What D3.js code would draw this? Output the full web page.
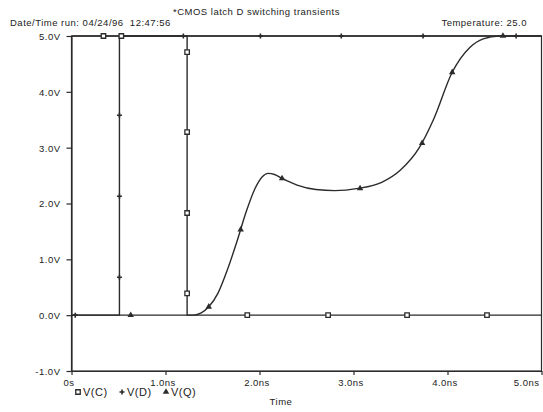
<!DOCTYPE html>
<html><head><meta charset="utf-8">
<script src="https://cdn.jsdelivr.net/npm/d3@7"></script>
<style>
html,body{margin:0;padding:0;background:#fff;}
svg{display:block;}
text{font-family:"Liberation Sans",Arial,sans-serif;fill:#222;letter-spacing:0.5px;}
</style>
</head><body>
<svg id="chart" width="543" height="412"></svg>
<script>
// Header texts
const title = "*CMOS latch D switching transients";
const runStamp = "Date/Time run: 04/24/96\u00a0\u00a012:47:56";
const temperature = "Temperature: 25.0";
const xAxisTitle = "Time";

// Axis ticks
const xTicks = [0, 1, 2, 3, 4, 5];
const xTickLabels = ["0s", "1.0ns", "2.0ns", "3.0ns", "4.0ns", "5.0ns"];
const yTicks = [5, 4, 3, 2, 1, 0, -1];
const yTickLabels = ["5.0V", "4.0V", "3.0V", "2.0V", "1.0V", "0.0V", "-1.0V"];

// Series names (legend order)
const seriesNames = ["V(C)", "V(D)", "V(Q)"];

// Waveforms: time in ns, voltage in V
const cTime = [0, 1.23, 1.23, 5];
const cVolt = [5, 5, 0, 0];
const dTime = [0, 0.51, 0.51, 5];
const dVolt = [0, 0, 5, 5];
const qTime = [0, 1.30, 1.38, 1.46, 1.56, 1.66, 1.76, 1.86, 1.95, 2.03, 2.09, 2.16, 2.24, 2.40, 2.60, 2.80, 3.05, 3.30, 3.50, 3.70, 3.85, 4.05, 4.24, 4.38, 4.55, 5.0];
const qVolt = [0, 0, 0.04, 0.15, 0.40, 0.82, 1.32, 1.86, 2.26, 2.48, 2.54, 2.52, 2.45, 2.33, 2.25, 2.23, 2.27, 2.38, 2.6, 3.0, 3.5, 4.35, 4.8, 4.95, 5.0, 5.0];

// Trace symbols placed along each waveform
const cMarkTime = [0.34, 0.53, 1.23, 1.23, 1.23, 1.23, 1.87, 2.73, 3.57, 4.42];
const cMarkVolt = [5, 5, 4.71, 3.28, 1.83, 0.39, 0, 0, 0, 0];
const dMarkTime = [0.04, 0.51, 0.51, 0.51, 1.19, 2.01, 2.87, 3.74, 4.73];
const dMarkVolt = [0, 0.68, 2.13, 3.58, 5, 5, 5, 5, 5];
const qMarkTime = [0.63, 1.46, 1.80, 2.24, 3.07, 3.73, 4.05, 4.59];
const qMarkVolt = [0, 0.15, 1.53, 2.45, 2.27, 3.08, 4.35, 5.0];

const W = 543, H = 412;
const plot = {left: 71.5, right: 541.5, top: 36, bottom: 371};
const ink = "#2b2b2b";

const svg = d3.select("#chart");
svg.append("rect").attr("width", W).attr("height", H).attr("fill", "#fff");

const x = d3.scaleLinear().domain([0, 5]).range([plot.left, plot.right]);
const y = d3.scaleLinear().domain([-1, 5]).range([plot.bottom, plot.top]);

// Header
svg.append("text").attr("x", 173).attr("y", 15).attr("font-size", 9.5).text(title);
svg.append("text").attr("x", 10).attr("y", 26).attr("font-size", 9.5).text(runStamp);
svg.append("text").attr("x", 527).attr("y", 26).attr("font-size", 9.5).attr("text-anchor", "end").text(temperature);

// Frame
svg.append("rect")
  .attr("x", plot.left).attr("y", plot.top)
  .attr("width", plot.right - plot.left).attr("height", plot.bottom - plot.top)
  .attr("fill", "none").attr("stroke", ink).attr("stroke-width", 1.2);

// Y axis
const yAxis = svg.append("g").attr("transform", `translate(${plot.left},0)`)
  .call(d3.axisLeft(y).tickValues(yTicks).tickFormat((d, i) => yTickLabels[i])
    .tickSizeInner(5).tickSizeOuter(0).tickPadding(6));
yAxis.select(".domain").attr("stroke", ink).attr("stroke-width", 1.2);
yAxis.selectAll(".tick line").attr("stroke", ink).attr("stroke-width", 1.2);
yAxis.selectAll(".tick text").attr("font-size", 9.5).attr("font-family", null)
  .attr("fill", "#222").attr("dy", "0.36em");

// X axis
const xAxis = svg.append("g").attr("transform", `translate(0,${plot.bottom})`)
  .call(d3.axisBottom(x).tickValues(xTicks).tickFormat((d, i) => xTickLabels[i])
    .tickSizeInner(4).tickSizeOuter(0).tickPadding(5));
xAxis.select(".domain").attr("stroke", ink).attr("stroke-width", 1.2);
xAxis.selectAll(".tick line").attr("stroke", ink).attr("stroke-width", 1.2);
xAxis.selectAll(".tick text").attr("font-size", 9.5).attr("font-family", null)
  .attr("fill", "#222").attr("dy", "0.6em")
  .attr("dx", function (d) {
    // keep the last label inside the page
    const w = this.getComputedTextLength();
    const cx = x(d) - 3;
    const maxCx = W - 4 - w / 2;
    return (Math.min(cx, maxCx) - x(d)) + "px";
  });

svg.append("text").attr("x", 281).attr("y", 405).attr("font-size", 9.5)
  .attr("text-anchor", "middle").text(xAxisTitle);

// Traces
const line = d3.line().x(d => x(d[0])).y(d => y(d[1]));
const smooth = d3.line().x(d => x(d[0])).y(d => y(d[1])).curve(d3.curveMonotoneX);
const zip = (a, b) => a.map((v, i) => [v, b[i]]);

const traces = svg.append("g").attr("fill", "none").attr("stroke", ink).attr("stroke-width", 1.4);
traces.append("path").attr("d", line(zip(cTime, cVolt)));
traces.append("path").attr("d", line(zip(dTime, dVolt)));
traces.append("path").attr("d", smooth(zip(qTime, qVolt)));

// Symbols
const sq = d3.symbol().type(d3.symbolSquare).size(20);
const tri = d3.symbol().type(d3.symbolTriangle).size(18);
function drawC(g, px, py) {
  g.append("path").attr("d", sq()).attr("transform", `translate(${px},${py})`)
    .attr("fill", "#fff").attr("stroke", ink).attr("stroke-width", 1.3);
}
function drawD(g, px, py) {
  g.append("path").attr("d", `M${px - 2.5},${py}H${px + 2.5}M${px},${py - 2.5}V${py + 2.5}`)
    .attr("stroke", ink).attr("stroke-width", 1.6).attr("fill", "none");
}
function drawQ(g, px, py) {
  g.append("path").attr("d", tri()).attr("transform", `translate(${px},${py})`)
    .attr("fill", ink);
}
const marks = svg.append("g");
cMarkTime.forEach((t, i) => drawC(marks, x(t), y(cMarkVolt[i])));
dMarkTime.forEach((t, i) => drawD(marks, x(t), y(dMarkVolt[i])));
qMarkTime.forEach((t, i) => drawQ(marks, x(t), y(qMarkVolt[i])));

// Legend
const legend = svg.append("g");
const legendX = [78, 122, 166];
const drawers = [drawC, drawD, drawQ];
seriesNames.forEach((name, i) => {
  drawers[i](legend, legendX[i], 392);
  legend.append("text").attr("x", legendX[i] + 5).attr("y", 396)
    .attr("font-size", 11).text(name);
});
</script>
</body></html>
